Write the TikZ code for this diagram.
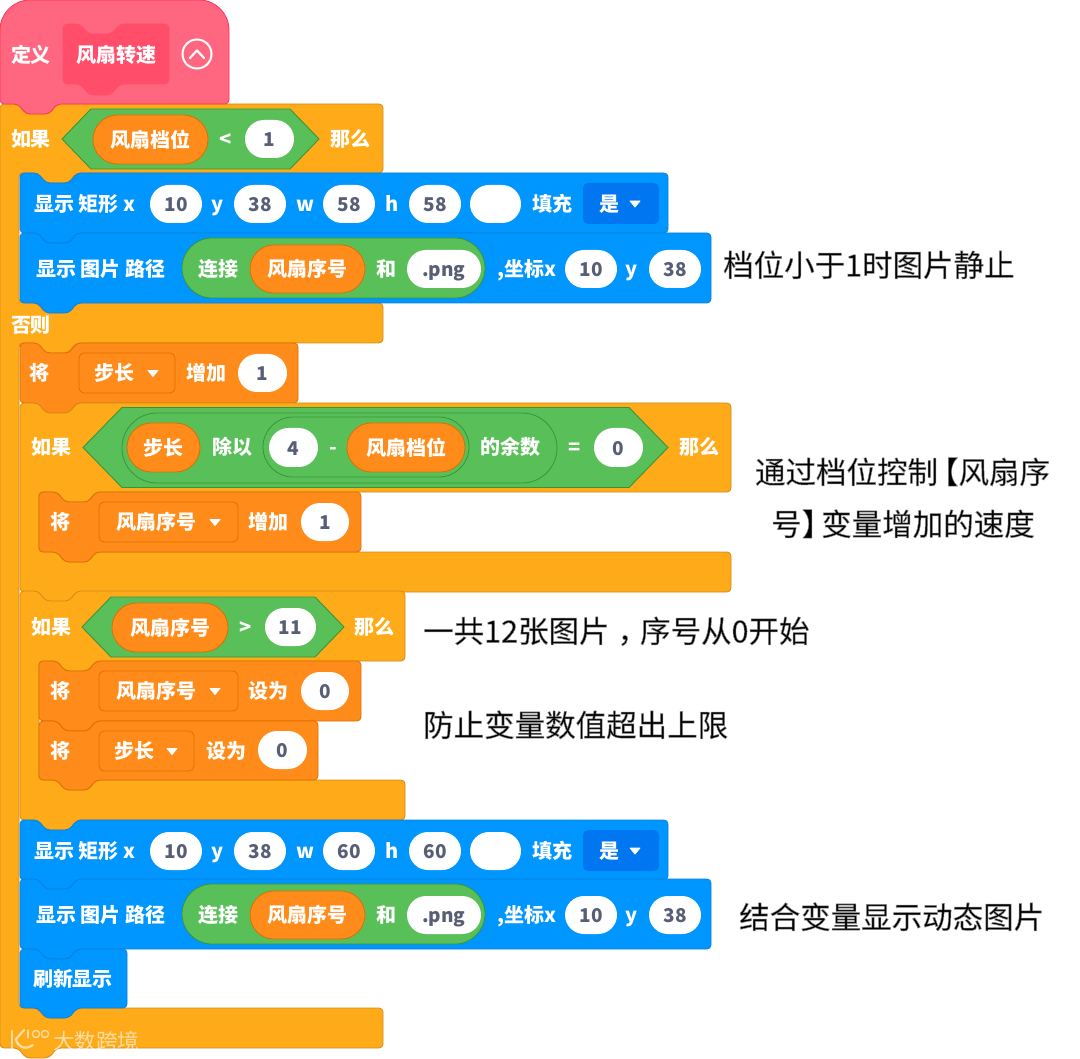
\documentclass[tikz,border=0pt]{standalone}
\usepackage{fontspec}
\setmainfont{Noto Sans CJK SC}
\newcounter{nid}
\definecolor{ctrl}{HTML}{FFAB19}\definecolor{ctrlD}{HTML}{CF8B17}
\definecolor{penc}{HTML}{0096FF}\definecolor{penD}{HTML}{0B80DC}\definecolor{penDD}{HTML}{0077F0}
\definecolor{vari}{HTML}{FF8C1A}\definecolor{variD}{HTML}{DB6E00}
\definecolor{opr}{HTML}{59C059}\definecolor{oprD}{HTML}{389438}
\definecolor{myb}{HTML}{FF6680}\definecolor{mybD}{HTML}{FF3355}\definecolor{mybI}{HTML}{FF4D6A}
\definecolor{numtxt}{HTML}{575E75}
\tikzset{
 ctrlblock/.style={fill=ctrl,draw=ctrlD,line width=.8pt,rounded corners=4pt},
 penblock/.style={fill=penc,draw=penD,line width=.8pt,rounded corners=4pt},
 varblock/.style={fill=vari,draw=variD,line width=.8pt,rounded corners=4pt},
 hexshape/.style={fill=opr,draw=oprD,line width=.9pt},
 lab/.style={text=white,inner sep=0pt,text height=16.8pt,text depth=1pt,font=\fontsize{20}{22}\selectfont\bfseries},
 inp/.style={fill=white,draw=none,text=numtxt,text height=16.4pt,text depth=1pt,font=\fontsize{19}{22}\selectfont\bfseries},
 rep/.style={fill=vari,draw=variD,line width=.8pt,text=white,text height=16.8pt,text depth=1pt,font=\fontsize{20}{22}\selectfont\bfseries},
 grn/.style={fill=opr,draw=oprD,line width=.8pt},
 ddv/.style={fill=vari,draw=variD,line width=.7pt},
 ddp/.style={fill=penDD,draw=none},
 notetxt/.style={text=black,inner sep=0pt,text height=26pt,text depth=3pt,font=\fontsize{30.5}{34}\selectfont},
 trimark/.style={fill=white,draw=white,line width=.8pt,line join=round},
 wmark/.style={inner sep=0pt,font=\fontsize{21.5}{24}\selectfont},
}
% top notch left to right / bottom bump right to left
\newcommand\nt[2]{-- ({#1+18},{#2}) -- ({#1+26},{#2+10}) -- ({#1+49},{#2+10}) -- ({#1+57},{#2})}
\newcommand\nb[2]{-- ({#1+57},{#2}) -- ({#1+49},{#2+10}) -- ({#1+26},{#2+10}) -- ({#1+18},{#2})}
% stack block: style, x0, y0, x1, y1
\newcommand\stk[5]{\draw[#1] (#2,#3) \nt{#2}{#3} -- (#4,#3) -- (#4,#5) \nb{#2}{#5} -- (#2,#5) -- cycle;}
% text at centre
\newcommand\lb[3]{\stepcounter{nid}\node[lab] (n\arabic{nid}) at (#1,#2) {#3};}
% left anchored
\newcommand\lbl[3]{\stepcounter{nid}\node[lab,anchor=west] (n\arabic{nid}) at (#1,#2) {#3};}
% pill node: style,x0,y0,x1,y1,text
\newcommand\pill[6]{\stepcounter{nid}%
 \pgfmathsetmacro\pilw{#4-#2}\pgfmathsetmacro\pilh{#5-#3}\pgfmathsetmacro\pilr{(#5-#3)/2-.01}%
 \pgfmathsetmacro\pilx{(#2+#4)/2}\pgfmathsetmacro\pily{(#3+#5)/2}%
 \node[#1,rectangle,inner sep=0pt,minimum width=\pilw pt,minimum height=\pilh pt,rounded corners=\pilr pt] (n\arabic{nid}) at (\pilx,\pily) {#6};}
% dropdown: style,x0,y0,x1,y1
\newcommand\dd[5]{\stepcounter{nid}%
 \pgfmathsetmacro\pilw{#4-#2}\pgfmathsetmacro\pilh{#5-#3}%
 \pgfmathsetmacro\pilx{(#2+#4)/2}\pgfmathsetmacro\pily{(#3+#5)/2}%
 \node[#1,rectangle,inner sep=0pt,minimum width=\pilw pt,minimum height=\pilh pt,rounded corners=5pt] (n\arabic{nid}) at (\pilx,\pily) {};}
\newcommand\trg[2]{\draw[trimark] ({#1-5},{#2-3}) -- ({#1+5},{#2-3}) -- ({#1},{#2+3}) -- cycle;}
% hexagon
\newcommand\hex[6]{\draw[hexshape] (#1,#3) -- (#2,#4) -- (#5,#4) -- (#6,#3) -- (#5,{2*#3-#4}) -- (#2,{2*#3-#4}) -- cycle;}
% note text: a soft grey outline round a thin black letter
\newcommand\note[4][center]{\stepcounter{nid}\node[notetxt,anchor=#1] (n\arabic{nid}) at (#2,#3) {\special{pdf:code 2 Tr 0.55 G 0.5 w}#4\special{pdf:code 0 Tr 0 G 0.4 w}};}
% pen rows, local y from row top
\newcommand\rectrow[3]{%
 \begin{scope}[shift={(0,#1)}]
 \stk{penblock}{20}{0}{668}{60}
 \lbl{34}{31}{显示 矩形 x}
 \pill{inp}{150}{12}{202}{50}{10}
 \lb{218}{31}{y}
 \pill{inp}{234}{12}{286}{50}{38}
 \lb{305}{31}{w}
 \pill{inp}{323}{12}{375}{50}{#2}
 \lb{392}{31}{h}
 \pill{inp}{409}{12}{461}{50}{#3}
 \pill{inp}{470}{12}{521}{50}{}
 \lb{552}{31}{填充}
 \dd{ddp}{583}{10}{659}{51}
 \lb{609}{31}{是}
 \trg{635}{31}
 \end{scope}
}
\newcommand\imgrow[1]{%
 \begin{scope}[shift={(0,#1)}]
 \stk{penblock}{20}{0}{711}{70}
 \lbl{36}{36}{显示 图片 路径}
 \pill{grn}{182}{5}{485}{65}{}
 \lb{218}{36}{连接}
 \pill{rep}{250}{12}{365}{60}{风扇序号}
 \lb{386}{36}{和}
 \pill{inp}{407}{17}{481}{55}{.png}
 \lbl{497}{36}{,坐标x}
 \pill{inp}{565}{17}{617}{55}{10}
 \lb{632}{36}{y}
 \pill{inp}{649}{17}{701}{55}{38}
 \end{scope}
}
\begin{document}
\begin{tikzpicture}[x=1pt,y=-1pt]
\useasboundingbox (0,0) rectangle (1080,1059);
\fill[white] (0,0) rectangle (1080,1059);

% outer if/else
\draw[ctrlblock] (0,104) \nt{0}{104} -- (383,104) -- (383,173) \nb{19}{173} -- (19,173)
  -- (19,303) \nt{19}{303} -- (383,303) -- (383,343) \nb{19}{343} -- (19,343)
  -- (19,1008) \nt{19}{1008} -- (383,1008) -- (383,1048) \nb{0}{1048} -- (0,1048) -- cycle;
% hat
\draw[fill=myb,draw=mybD,line width=.8pt] (0,36) [rounded corners=30pt] -- (0,0) -- (229,0) [rounded corners=4pt] -- (229,104) \nb{0}{104} -- (0,104) -- cycle;
\lb{31}{55}{定义}
\draw[fill=mybI,draw=mybD!85!white,line width=.7pt,rounded corners=4pt] (63,24) -- (80,24) -- (89,34) -- (111,34) -- (120,24) -- (169,24) -- (169,84) -- (120,84) -- (111,95) -- (89,95) -- (80,84) -- (63,84) -- cycle;
\lb{116}{55}{风扇转速}
\draw[white,line width=2pt] (197,54) circle (14.5);
\draw[white,line width=2.2pt,line cap=round,line join=round] (190,58) -- (197,50.5) -- (204,58);

% first if
\lb{31}{139}{如果}
\hex{62}{91}{139}{109}{290}{319}
\pill{rep}{93}{115}{208}{164}{风扇档位}
\lb{226}{139}{<}
\pill{inp}{245}{120}{294}{158}{1}
\lb{350}{139}{那么}
\rectrow{173}{58}{58}
\imgrow{233}
\note[west]{723}{265}{档位小于1时图片静止}
\lb{31}{325}{否则}

% change step
\stk{varblock}{20}{343}{298}{403}
\lb{40}{373}{将}
\dd{ddv}{79}{353}{175}{393}
\lb{114}{373}{步长}
\trg{153}{373.5}
\lb{206}{373}{增加}
\pill{inp}{238}{354}{287}{392}{1}

% second if
\draw[ctrlblock] (20,403) \nt{20}{403} -- (731,403) -- (731,492) \nb{39}{492} -- (39,492) -- (39,552) \nt{39}{552} -- (731,552) -- (731,592) \nb{20}{592} -- (20,592) -- cycle;
\lb{51}{447}{如果}
\hex{83}{122}{447.5}{407.5}{629}{668}
\pill{grn}{122}{413}{557}{483}{}
\pill{rep}{127}{423}{200}{472}{步长}
\lb{232}{447}{除以}
\pill{grn}{263}{417}{469}{477}{}
\pill{inp}{269}{428}{318}{467}{4}
\lb{333}{447}{-}
\pill{rep}{347}{423}{465}{472}{风扇档位}
\lb{510}{447}{的余数}
\lb{575}{447}{=}
\pill{inp}{594}{428}{643}{467}{0}
\lb{699}{447}{那么}
\stk{varblock}{39}{492}{361}{552}
\lb{60}{522}{将}
\dd{ddv}{99}{502}{238}{542}
\lb{156}{522}{风扇序号}
\trg{215}{522.5}
\lb{268}{522}{增加}
\pill{inp}{301}{503}{349}{541}{1}
\note{902.5}{472}{通过档位控制\kern-10pt【风扇序}
\note{903}{524}{号】\kern-11pt变量增加的速度}

% third if
\draw[ctrlblock] (20,591) \nt{20}{591} -- (405,591) -- (405,661) \nb{39}{661} -- (39,661) -- (39,780) \nt{39}{780} -- (405,780) -- (405,820) \nb{20}{820} -- (20,820) -- cycle;
\lb{51}{627}{如果}
\hex{82}{111}{627}{597}{315}{344}
\pill{rep}{112}{603}{228}{652}{风扇序号}
\lb{246}{627}{>}
\pill{inp}{265}{608}{316}{646}{11}
\lb{374}{627}{那么}
\stk{varblock}{39}{661}{361}{721}
\lb{60}{691}{将}
\dd{ddv}{99}{671}{238}{711}
\lb{156}{691}{风扇序号}
\trg{215}{691.5}
\lb{268}{691}{设为}
\pill{inp}{301}{672}{349}{710}{0}
\stk{varblock}{39}{721}{318}{780}
\lb{60}{751}{将}
\dd{ddv}{99}{731}{194}{771}
\lb{134}{751}{步长}
\trg{172}{751.5}
\lb{226}{751}{设为}
\pill{inp}{258}{731}{307}{769}{0}
\note[west]{423}{631}{一共12张图片\kern8pt，\kern-8pt序号从0开始}
\note[west]{423}{725}{防止变量数值超出上限}

% final rows
\rectrow{820}{60}{60}
\imgrow{879}
\note[west]{739}{917}{结合变量显示动态图片}
\stk{penblock}{20}{949}{127}{1008}
\lb{73}{979}{刷新显示}

% watermark
\begin{scope}[white,opacity=.6,line width=2.2pt,line cap=round]
 \draw (12,1031) -- (12,1048);
 \draw (24,1030) -- (16,1039) .. controls (17,1046) and (24,1051) .. (33,1045);
 \draw[line width=1.3pt] (28,1030) -- (28,1038);
 \draw[line width=1.3pt] (36,1034) circle (3.6);
 \draw[line width=1.3pt] (45,1034) circle (3.6);
\end{scope}
\stepcounter{nid}
\node[wmark,text=white,text opacity=.6] (n\arabic{nid}) at (96,1041) {大数跨境};
\end{tikzpicture}
\end{document}
